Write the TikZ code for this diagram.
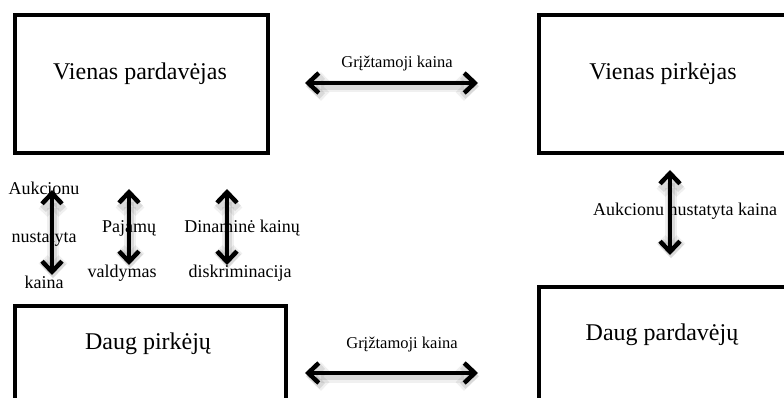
\documentclass[tikz,border=0pt]{standalone}
\usepackage{fontspec}
\setmainfont{Liberation Serif}
\usetikzlibrary{arrows.meta}
\tikzset{tipshape/.tip={Straight Barb[length=10.5pt,width=20pt]}}
\begin{document}
\begin{tikzpicture}[x=1pt,y=-1pt,
  box/.style={draw=black, line width=4pt, inner sep=0pt, anchor=north west},
  boxtext/.style={font=\fontsize{24}{27}\selectfont, anchor=base, inner sep=0pt},
  tag/.style={font=\fontsize{16.5}{20}\selectfont, anchor=base, inner sep=0pt},
  note/.style={font=\fontsize{18}{21}\selectfont, anchor=base, inner sep=0pt},
  haze/.style={preaction={draw=black, draw opacity=0.06, line width=12pt,
      transform canvas={shift={(1pt,-3.5pt)}}},
    preaction={draw=black, draw opacity=0.09, line width=8pt,
      transform canvas={shift={(1pt,-3pt)}}}},
  dblarrow/.style={line width=4.5pt, {tipshape}-{tipshape}, haze}
]
\useasboundingbox (0,0) rectangle (784,398);
\fill[white] (0,0) rectangle (784,398);

% the four market boxes
\node[box, minimum width=253pt, minimum height=138pt] (seller) at (13,13) {};
\node[box, minimum width=300pt, minimum height=138pt] (buyer) at (537,13) {};
\node[box, minimum width=271pt, minimum height=150pt] (buyers) at (13,304) {};
\node[box, minimum width=300pt, minimum height=150pt] (sellers) at (537,285) {};

\node[boxtext] (sellerT) at (140,80) {Vienas pardavėjas};
\node[boxtext] (buyerT) at (663,80) {Vienas pirkėjas};
\node[boxtext] (buyersT) at (148,349) {Daug pirkėjų};
\node[boxtext] (sellersT) at (662,340) {Daug pardavėjų};

% arrow labels
\node[tag] (topT) at (397,68) {Grįžtamoji kaina};
\node[tag] (botT) at (402,348) {Grįžtamoji kaina};

\node[note] (auk1) at (44,195) {Aukcionu};
\node[note] (auk2) at (44,242) {nustatyta};
\node[note] (auk3) at (44,288) {kaina};
\node[note] (paj1) at (129,232) {Pajamų};
\node[note] (paj2) at (122,277) {valdymas};
\node[note] (din1) at (242,232) {Dinaminė kainų};
\node[note] (din2) at (240,277) {diskriminacija};
\node[note] (aukR) at (685,215) {Aukcionu nustatyta kaina};

% arrow end points
\coordinate (t1) at (305,83);  \coordinate (t2) at (478,83);
\coordinate (b1) at (305,373); \coordinate (b2) at (478,373);
\coordinate (v1a) at (52,190);  \coordinate (v1b) at (52,275);
\coordinate (v2a) at (129,189); \coordinate (v2b) at (129,265);
\coordinate (v3a) at (227,189); \coordinate (v3b) at (227,265);
\coordinate (r1) at (670,170);  \coordinate (r2) at (670,255);

\draw[dblarrow] (t1) -- (t2);
\draw[dblarrow] (b1) -- (b2);
\draw[dblarrow] (v1a) -- (v1b);
\draw[dblarrow] (v2a) -- (v2b);
\draw[dblarrow] (v3a) -- (v3b);
\draw[dblarrow] (r1) -- (r2);
\end{tikzpicture}
\end{document}
